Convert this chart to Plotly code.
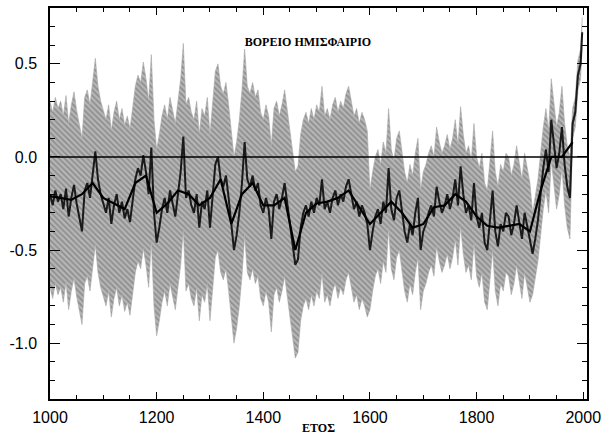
import plotly.graph_objects as go

# ---------------- data ----------------
years = list(range(1000, 2000, 5)) + [1998]

recon = [
    # 1000-1095
    -0.20, -0.26, -0.18, -0.24, -0.20, -0.28, -0.17, -0.32, -0.22, -0.15,
    -0.25, -0.33, -0.40, -0.18, -0.14, -0.22, -0.08, 0.03, -0.12, -0.20,
    # 1100-1195
    -0.25, -0.30, -0.22, -0.36, -0.26, -0.20, -0.30, -0.24, -0.33, -0.28,
    -0.35, -0.22, -0.12, -0.06, -0.10, 0.01, -0.08, -0.20, 0.05, -0.30,
    # 1200-1295
    -0.46, -0.38, -0.28, -0.22, -0.30, -0.18, -0.26, -0.32, -0.20, -0.08,
    0.11, -0.22, -0.18, -0.26, -0.30, -0.20, -0.38, -0.24, -0.28, -0.18,
    # 1300-1395
    -0.38, -0.20, -0.04, 0.00, -0.12, -0.16, -0.10, -0.22, -0.38, -0.50,
    -0.42, -0.30, -0.14, 0.08, -0.12, -0.16, -0.10, -0.18, -0.14, -0.26,
    # 1400-1495
    -0.30, -0.22, -0.28, -0.44, -0.24, -0.20, -0.28, -0.22, -0.14, -0.25,
    -0.38, -0.50, -0.58, -0.55, -0.38, -0.30, -0.26, -0.32, -0.24, -0.30,
    # 1500-1595
    -0.22, -0.26, -0.12, -0.28, -0.24, -0.30, -0.22, -0.18, -0.26, -0.20,
    -0.24, -0.16, -0.12, -0.20, -0.28, -0.24, -0.32, -0.26, -0.30, -0.36,
    # 1600-1695
    -0.50, -0.40, -0.32, -0.28, -0.36, -0.24, -0.30, -0.06, -0.28, -0.34,
    -0.22, -0.18, -0.30, -0.40, -0.46, -0.36, -0.42, -0.30, -0.22, -0.50,
    # 1700-1795
    -0.40, -0.36, -0.30, -0.26, -0.32, -0.16, -0.24, -0.30, -0.26, -0.20,
    -0.28, -0.22, -0.12, -0.26, -0.05, -0.20, -0.30, -0.26, -0.34, -0.14,
    # 1800-1895
    -0.32, -0.38, -0.30, -0.46, -0.50, -0.34, -0.18, -0.40, -0.48, -0.36,
    -0.40, -0.30, -0.32, -0.42, -0.36, -0.26, -0.34, -0.44, -0.30, -0.38,
    # 1900-1995, 1998
    -0.46, -0.52, -0.44, -0.34, -0.20, -0.06, 0.04, -0.08, 0.20, 0.06,
    -0.06, 0.02, 0.16, -0.04, -0.16, -0.22, 0.18, 0.24, 0.44, 0.50,
    0.67,
]

smooth_years = list(range(1000, 2000, 20))
smooth = [
    -0.21, -0.22, -0.23, -0.20, -0.14, -0.22, -0.25, -0.28, -0.14, -0.10,
    -0.30, -0.25, -0.18, -0.20, -0.26, -0.22, -0.12, -0.36, -0.20, -0.14,
    -0.26, -0.26, -0.22, -0.50, -0.30, -0.25, -0.24, -0.22, -0.18, -0.27,
    -0.36, -0.30, -0.24, -0.30, -0.38, -0.36, -0.27, -0.26, -0.20, -0.24,
    -0.32, -0.37, -0.38, -0.37, -0.36, -0.40, -0.18, 0.00, 0.00, 0.08,
]

# two-sigma uncertainty half-width, by period start year
err_start = [1000, 1600, 1902, 1980]
err_half = [0.50, 0.32, 0.22, 0.08]

x_ticks = [1000, 1200, 1400, 1600, 1800, 2000]
y_ticks = [-1.0, -0.5, 0.0, 0.5]
y_ticktext = ["-1.0", "-0.5", "0.0", "0.5"]

title_text = "ΒΟΡΕΙΟ ΗΜΙΣΦΑΙΡΙΟ"
x_title = "ΕΤΟΣ"


def half_width(yr):
    h = err_half[0]
    for s, v in zip(err_start, err_half):
        if yr >= s:
            h = v
    return h


upper = [v + half_width(y) for y, v in zip(years, recon)]
lower = [v - half_width(y) for y, v in zip(years, recon)]

# ---------------- figure ----------------
fig = go.Figure()

fig.add_trace(go.Scatter(
    x=years, y=upper, mode="lines",
    line=dict(color="#a8a8a8", width=0.6),
    hoverinfo="skip", showlegend=False,
))
fig.add_trace(go.Scatter(
    x=years, y=lower, mode="lines", fill="tonexty",
    fillcolor="#aaaaaa",
    fillpattern=dict(shape="\\", fgcolor="#626262", bgcolor="#b6b6b6",
                     size=4, solidity=0.4),
    line=dict(color="#a8a8a8", width=0.6),
    hoverinfo="skip", showlegend=False,
))
fig.add_trace(go.Scatter(
    x=years, y=recon, mode="lines",
    line=dict(color="#1a1a1a", width=2.0),
    showlegend=False,
))
fig.add_trace(go.Scatter(
    x=smooth_years, y=smooth, mode="lines",
    line=dict(color="#000000", width=2.2),
    showlegend=False,
))

fig.add_hline(y=0, line=dict(color="black", width=1.5))

axis_common = dict(
    showline=True, linecolor="black", linewidth=1.5, mirror="ticks",
    ticks="inside", tickcolor="black", tickwidth=1.2,
    showgrid=False, zeroline=False, automargin=False,
    tickfont=dict(family="Liberation Sans, Arial", size=16, color="black"),
)

fig.update_xaxes(
    range=[1000, 2007], tickvals=x_ticks, ticklen=7,
    minor=dict(dtick=50, ticklen=4, ticks="inside", tickcolor="black", tickwidth=1),
    ticklabelstandoff=3,
    title=dict(text="<b>" + x_title + "</b>", standoff=6,
               font=dict(family="Liberation Serif, Times New Roman", size=12, color="black")),
    **axis_common,
)
fig.update_yaxes(
    range=[-1.3, 0.8], tickvals=y_ticks, ticktext=y_ticktext, ticklen=10,
    minor=dict(dtick=0.1, ticklen=5, ticks="inside", tickcolor="black", tickwidth=1),
    ticklabelstandoff=8,
    **axis_common,
)

fig.update_layout(
    width=602, height=435,
    margin=dict(l=50, r=15, t=8, b=36),
    paper_bgcolor="white", plot_bgcolor="white",
    title=dict(text="<b>" + title_text + "</b>", x=0.5116, y=1 - 42 / 435,
               xanchor="center", yanchor="middle",
               font=dict(family="Liberation Serif, Times New Roman", size=12, color="black")),
)

fig.write_html(
    "out.html",
    config={"displayModeBar": False},
    post_script="document.body.style.margin='0';document.body.style.padding='0';"
                "document.body.style.overflow='hidden';",
)
